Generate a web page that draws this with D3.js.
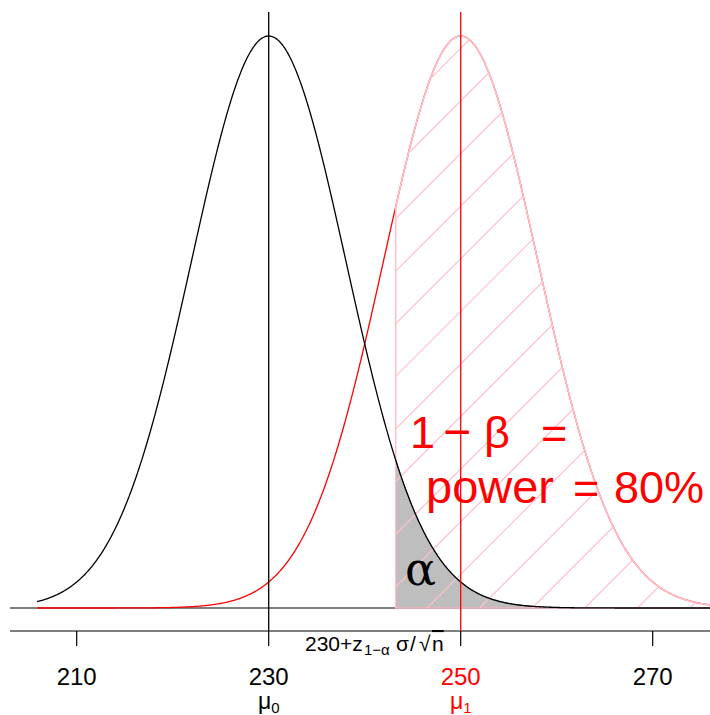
<!DOCTYPE html>
<html>
<head>
<meta charset="utf-8">
<style>
	body { margin: 0; background: #fff; }
	svg { display: block; font-family: 'Liberation Sans', Arial, sans-serif; }
</style>
</head>
<body>
<svg width="710" height="715"></svg>
<script src="https://d3js.org/d3.v7.min.js"></script>
<script>
	// test setup
	var means = [230, 250];          // mu0, mu1
	var meanLabels = ["0", "1"];
	var meanColors = ["black", "red"];
	var alpha = 0.05;
	var power = 0.80;
	var zAlpha = 1.6449;             // z_{1-alpha}
	var zBeta = 0.8416;              // z_{power}
	var se = (means[1] - means[0]) / (zAlpha + zBeta);   // sigma/sqrt(n)
	var crit = means[0] + zAlpha * se;
	var ticks = [210, 230, 250, 270];
	var tickColors = ["black", "black", "red", "black"];
	var curveRange = [means[0] - 3 * se, means[1] + 4 * se];

	var svg = d3.select("svg");

	var x = d3.scaleLinear().domain([210, 270]).range([76.7, 652.7]);
	var peak = 1 / (se * Math.sqrt(2 * Math.PI));
	var y = d3.scaleLinear().domain([0, peak]).range([608, 36]);

	function dnorm(v, m) {
		var z = (v - m) / se;
		return Math.exp(-z * z / 2) / (se * Math.sqrt(2 * Math.PI));
	}

	var grid = d3.range(curveRange[0], curveRange[1], 0.1).concat([curveRange[1]]);
	var tail = [crit].concat(grid.filter(function(v) { return v > crit; }));

	var line = d3.line().x(function(d) { return x(d[0]); }).y(function(d) { return y(d[1]); });
	var area = d3.area().x(function(d) { return x(d[0]); }).y0(y(0)).y1(function(d) { return y(d[1]); });

	// baseline and axis line
	svg.append("line").attr("x1", 10).attr("x2", 710).attr("y1", y(0)).attr("y2", y(0))
		.attr("stroke", "black").attr("stroke-width", 1.2);

	var axisY = 631;
	svg.append("line").attr("x1", 10).attr("x2", 710).attr("y1", axisY).attr("y2", axisY)
		.attr("stroke", "black").attr("stroke-width", 1.2);

	svg.selectAll(".tick").data(ticks).enter().append("line")
		.attr("class", "tick")
		.attr("x1", function(d) { return x(d); }).attr("x2", function(d) { return x(d); })
		.attr("y1", axisY).attr("y2", axisY + 15)
		.attr("stroke", "black").attr("stroke-width", 1.2);

	svg.selectAll(".ticklab").data(ticks).enter().append("text")
		.attr("class", "ticklab")
		.attr("x", function(d) { return x(d); }).attr("y", 685)
		.attr("text-anchor", "middle").attr("font-size", "24px")
		.attr("fill", function(d, i) { return tickColors[i]; })
		.text(function(d) { return d; });

	var mu = svg.selectAll(".mulab").data(means).enter().append("text")
		.attr("class", "mulab")
		.attr("x", function(d) { return x(d); }).attr("y", 709)
		.attr("text-anchor", "middle")
		.attr("fill", function(d, i) { return meanColors[i]; });
	mu.append("tspan").attr("font-size", "23px").text("\u03bc");
	mu.append("tspan").attr("font-size", "15px").attr("dy", 4)
		.text(function(d, i) { return meanLabels[i]; });

	// red curve (H1)
	svg.append("path").datum(grid.map(function(v) { return [v, dnorm(v, means[1])]; }))
		.attr("d", line).attr("fill", "none").attr("stroke", "red").attr("stroke-width", 1.3);

	// alpha region
	svg.append("path").datum(tail.map(function(v) { return [v, dnorm(v, means[0])]; }))
		.attr("d", area).attr("fill", "#bebebe").attr("stroke", "#555").attr("stroke-width", 0.8);

	// power region, hatched
	var powerData = tail.map(function(v) { return [v, dnorm(v, means[1])]; });
	svg.append("clipPath").attr("id", "powclip")
		.append("path").datum(powerData).attr("d", area);

	var hatchStep = 52.6;
	var hatchStart = 427;
	var hatch = svg.append("g").attr("clip-path", "url(#powclip)");
	d3.range(-14, 8).forEach(function(k) {
		var x0 = hatchStart + k * hatchStep;
		hatch.append("line")
			.attr("x1", x0).attr("y1", y(0))
			.attr("x2", x0 + 700).attr("y2", y(0) - 700)
			.attr("stroke", "pink").attr("stroke-width", 1.2);
	});

	svg.append("path").datum(powerData)
		.attr("d", function(d) { return area(d); })
		.attr("fill", "none").attr("stroke", "pink").attr("stroke-width", 1.6);

	// black curve (H0)
	svg.append("path").datum(grid.map(function(v) { return [v, dnorm(v, means[0])]; }))
		.attr("d", line).attr("fill", "none").attr("stroke", "black").attr("stroke-width", 1.3);

	// vertical lines at the means
	svg.selectAll(".vline").data(means).enter().append("line")
		.attr("class", "vline")
		.attr("x1", function(d) { return x(d); }).attr("x2", function(d) { return x(d); })
		.attr("y1", 12).attr("y2", axisY)
		.attr("stroke", function(d, i) { return meanColors[i]; }).attr("stroke-width", 1.3);

	// annotations
	svg.append("text").attr("x", 405).attr("y", 585)
		.attr("font-family", "'DejaVu Serif', serif").attr("font-size", "46px")
		.text("\u03b1");

	var ann = svg.append("g").attr("fill", "red").attr("font-size", "45px");
	ann.append("text").attr("x", 410).attr("y", 448).text("1");
	ann.append("text").attr("x", 443).attr("y", 448).attr("font-size", "48px").text("\u2212");
	ann.append("text").attr("x", 484).attr("y", 448).text("\u03b2");
	ann.append("text").attr("x", 541).attr("y", 448).text("=");
	ann.append("text").attr("x", 426).attr("y", 503).attr("font-size", "47px").text("power");
	ann.append("text").attr("x", 573).attr("y", 503).text("=");
	ann.append("text").attr("x", 614).attr("y", 503).text(Math.round(power * 100) + "%");

	// critical value label
	var cl = svg.append("g").attr("fill", "black");
	cl.append("text").attr("x", 305).attr("y", 651).attr("font-size", "21px").text("230+z");
	cl.append("text").attr("x", 364).attr("y", 655).attr("font-size", "15px").text("1\u2212\u03b1");
	cl.append("text").attr("x", 396).attr("y", 651).attr("font-size", "21px").text("\u03c3");
	cl.append("text").attr("x", 410).attr("y", 651).attr("font-size", "21px").text("/");
	cl.append("text").attr("x", 419).attr("y", 651).attr("font-size", "21px").text("\u221a");
	cl.append("text").attr("x", 432).attr("y", 651).attr("font-size", "21px")
		.style("text-decoration", "overline").text("n");
</script>
</body>
</html>
